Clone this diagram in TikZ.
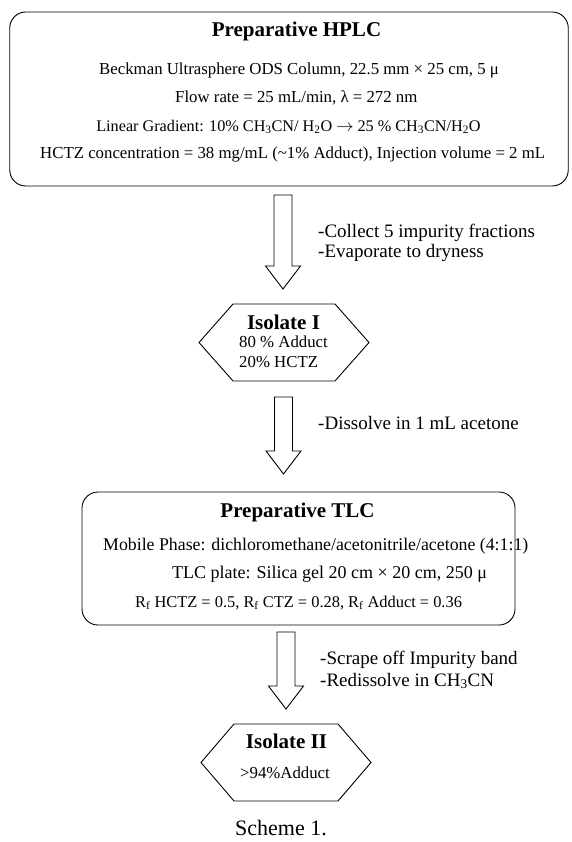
\documentclass[tikz,border=0pt]{standalone}
\usepackage{fontspec}
\setmainfont{Liberation Serif}
\newcommand\myblockarrow[3]{%
  \draw[arrowline] (#1-9,#2) -- (#1-9,#3-23) -- (#1-17.5,#3-23) -- (#1,#3)
    -- (#1+17.5,#3-23) -- (#1+9,#3-23) -- (#1+9,#2) -- cycle;}
\newcommand\myhexagon[5]{%
  \draw[hexline] (#1-#3,#2) -- (#1-#3+#5,#2-#4) -- (#1+#3-#5,#2-#4) -- (#1+#3,#2)
    -- (#1+#3-#5,#2+#4) -- (#1-#3+#5,#2+#4) -- cycle;}
\begin{document}
\begin{tikzpicture}[x=1pt,y=-1pt,
  box/.style={draw, rounded corners=16pt, line width=0.9pt},
  arrowline/.style={line width=0.9pt},
  hexline/.style={line width=0.9pt},
  ttl/.style={font=\fontsize{21}{24}\selectfont\bfseries, inner sep=0pt},
  txt/.style={font=\fontsize{16.8}{19}\selectfont, inner sep=0pt},
  lbl/.style={font=\fontsize{19}{21}\selectfont, inner sep=0pt, anchor=west},
  capt/.style={font=\fontsize{22}{24}\selectfont, inner sep=0pt}]
\useasboundingbox (0,0) rectangle (571,842);

% ---- Preparative HPLC box
\node[box, minimum width=558.5pt, minimum height=174pt] (hplc) at (289,99) {};
\node[ttl] (hplcT) at (296.5,31) {Preparative HPLC};
\node[txt, anchor=west] (h1) at (99,70) {Beckman Ultrasphere ODS Column, 22.5 mm × 25 cm, 5 μ};
\node[txt, anchor=west] (h2) at (175,98) {Flow rate = 25 mL/min, λ = 272 nm};
\node[txt, font=\fontsize{16.2}{19}\selectfont] (h3) at (288.5,127) {Linear Gradient: 10\% CH\textsubscript{3}CN/ H\textsubscript{2}O $\rightarrow$ 25 \% CH\textsubscript{3}CN/H\textsubscript{2}O};
\node[txt, anchor=west] (h4) at (40,154) {HCTZ concentration = 38 mg/mL (\textasciitilde1\% Adduct), Injection volume = 2 mL};

% ---- arrow 1
\myblockarrow{283}{195}{289}
\node[lbl] (l1) at (318,233) {-Collect 5 impurity fractions};
\node[lbl] (l2) at (318,253) {-Evaporate to dryness};

% ---- Isolate I
\myhexagon{284}{342.5}{85}{38.5}{34}
\node[ttl] (iso1) at (283.5,322) {Isolate I};
\node[txt, anchor=west] (iso1a) at (239,342) {80 \% Adduct};
\node[txt, anchor=west] (iso1b) at (239,362) {20\% HCTZ};

% ---- arrow 2
\myblockarrow{283.5}{397}{474}
\node[lbl] (l3) at (318,423) {-Dissolve in 1 mL acetone};

% ---- Preparative TLC box
\node[box, minimum width=433pt, minimum height=133pt] (tlc) at (298.5,558.5) {};
\node[ttl] (tlcT) at (297.5,512) {Preparative TLC};
\node[txt, anchor=west, font=\fontsize{17.8}{20}\selectfont] (t1) at (103,546) {Mobile Phase: dichloromethane/acetonitrile/acetone (4:1:1)};
\node[txt, anchor=west, font=\fontsize{18}{20}\selectfont] (t2) at (172,574) {TLC plate: Silica gel 20 cm × 20 cm, 250 μ};
\node[txt, anchor=west, font=\fontsize{16.4}{19}\selectfont] (t3) at (135,603) {R\textsubscript{f} HCTZ = 0.5, R\textsubscript{f} CTZ = 0.28, R\textsubscript{f} Adduct = 0.36};

% ---- arrow 3
\myblockarrow{286}{632}{709}
\node[lbl] (l4) at (320,660) {-Scrape off Impurity band};
\node[lbl] (l5) at (320,681) {-Redissolve in CH\textsubscript{3}CN};

% ---- Isolate II
\myhexagon{286}{762.5}{85}{38.5}{33}
\node[ttl] (iso2) at (286.5,741) {Isolate II};
\node[txt] (iso2a) at (285,773) {>94\%Adduct};

% ---- caption
\node[capt] (cap) at (281,828) {Scheme 1.};
\end{tikzpicture}
\end{document}
